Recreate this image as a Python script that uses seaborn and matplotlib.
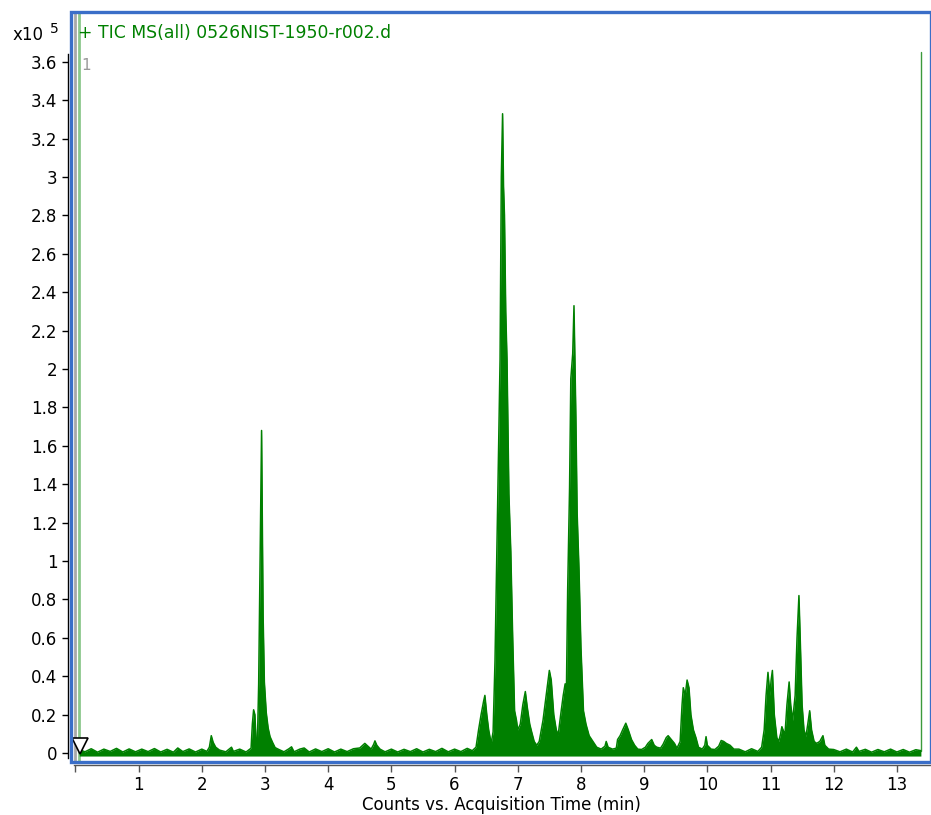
import numpy as np
import pandas as pd
import matplotlib
matplotlib.use("Agg")
import matplotlib.pyplot as plt
from matplotlib.patches import Rectangle
import seaborn as sns

# TIC trace (time in min, counts in 1e5)
TIME = [0.06, 0.15, 0.25, 0.35, 0.45, 0.55, 0.65, 0.75, 0.85, 0.95,
        1.05, 1.15, 1.25, 1.35, 1.45, 1.55, 1.62, 1.70, 1.80, 1.90,
        2.00, 2.08, 2.12, 2.15, 2.18, 2.22, 2.28, 2.38, 2.47, 2.50,
        2.60, 2.70, 2.78, 2.80, 2.82, 2.84, 2.86, 2.88, 2.90, 2.92,
        2.94, 2.946, 2.955, 2.97, 2.99, 3.02, 3.05, 3.08, 3.12, 3.16,
        3.22, 3.30, 3.38, 3.42, 3.46, 3.55, 3.62, 3.70, 3.80, 3.90,
        4.00, 4.10, 4.20, 4.30, 4.40, 4.50, 4.58, 4.63, 4.68, 4.72,
        4.74, 4.77, 4.82, 4.90, 5.00, 5.10, 5.20, 5.30, 5.40, 5.50,
        5.60, 5.70, 5.80, 5.90, 6.00, 6.10, 6.20, 6.28, 6.34, 6.38,
        6.42, 6.46, 6.48, 6.51, 6.54, 6.58, 6.61, 6.64, 6.67, 6.70,
        6.72, 6.74, 6.76, 6.775, 6.79, 6.81, 6.83, 6.86, 6.89, 6.92,
        6.95, 6.98, 7.00, 7.04, 7.08, 7.12, 7.15, 7.19, 7.22, 7.26,
        7.30, 7.34, 7.40, 7.45, 7.50, 7.53, 7.57, 7.61, 7.64, 7.68,
        7.72, 7.75, 7.77, 7.79, 7.82, 7.84, 7.87, 7.89, 7.905, 7.92,
        7.94, 7.97, 8.00, 8.04, 8.08, 8.13, 8.19, 8.25, 8.32, 8.38,
        8.40, 8.43, 8.50, 8.56, 8.58, 8.62, 8.66, 8.71, 8.75, 8.80,
        8.85, 8.90, 8.96, 9.02, 9.06, 9.12, 9.16, 9.20, 9.26, 9.30,
        9.35, 9.38, 9.43, 9.48, 9.52, 9.57, 9.60, 9.62, 9.65, 9.68,
        9.71, 9.74, 9.78, 9.82, 9.86, 9.92, 9.96, 9.98, 10.00, 10.06,
        10.12, 10.18, 10.22, 10.26, 10.30, 10.36, 10.42, 10.50, 10.60, 10.70,
        10.80, 10.86, 10.90, 10.93, 10.96, 10.99, 11.01, 11.03, 11.06, 11.10,
        11.13, 11.16, 11.18, 11.21, 11.23, 11.26, 11.295, 11.32, 11.35, 11.39,
        11.42, 11.45, 11.47, 11.50, 11.53, 11.56, 11.59, 11.62, 11.65, 11.69,
        11.73, 11.78, 11.83, 11.86, 11.92, 12.00, 12.10, 12.20, 12.30, 12.36,
        12.40, 12.50, 12.60, 12.70, 12.80, 12.90, 13.00, 13.10, 13.20, 13.30,
        13.38]
COUNTS = [0.018, 0.006, 0.022, 0.004, 0.020, 0.008, 0.024, 0.005, 0.021, 0.006,
          0.020, 0.007, 0.023, 0.005, 0.019, 0.004, 0.026, 0.007, 0.021, 0.005,
          0.020, 0.008, 0.030, 0.090, 0.055, 0.030, 0.015, 0.006, 0.030, 0.008,
          0.020, 0.005, 0.025, 0.150, 0.225, 0.200, 0.060, 0.055, 0.360, 0.920,
          1.520, 1.680, 1.320, 0.720, 0.370, 0.210, 0.130, 0.085, 0.055, 0.028,
          0.018, 0.006, 0.022, 0.032, 0.006, 0.020, 0.026, 0.005, 0.021, 0.007,
          0.022, 0.005, 0.020, 0.007, 0.022, 0.026, 0.050, 0.035, 0.020, 0.045,
          0.063, 0.040, 0.020, 0.006, 0.020, 0.005, 0.019, 0.007, 0.022, 0.005,
          0.019, 0.007, 0.024, 0.006, 0.020, 0.007, 0.024, 0.012, 0.030, 0.120,
          0.200, 0.270, 0.300, 0.200, 0.120, 0.050, 0.110, 0.480, 1.050, 1.650,
          2.050, 3.000, 3.330, 2.950, 2.800, 2.300, 2.050, 1.350, 1.050, 0.600,
          0.220, 0.170, 0.120, 0.150, 0.250, 0.320, 0.240, 0.150, 0.110, 0.060,
          0.040, 0.060, 0.170, 0.300, 0.430, 0.380, 0.200, 0.120, 0.094, 0.200,
          0.300, 0.360, 0.320, 0.850, 1.380, 1.950, 2.080, 2.330, 2.050, 1.750,
          1.250, 0.950, 0.550, 0.220, 0.150, 0.090, 0.060, 0.030, 0.020, 0.035,
          0.060, 0.030, 0.020, 0.025, 0.070, 0.090, 0.120, 0.155, 0.120, 0.070,
          0.040, 0.020, 0.018, 0.030, 0.050, 0.070, 0.040, 0.030, 0.025, 0.045,
          0.080, 0.090, 0.070, 0.050, 0.025, 0.060, 0.250, 0.340, 0.300, 0.380,
          0.340, 0.200, 0.120, 0.080, 0.030, 0.020, 0.040, 0.085, 0.040, 0.020,
          0.018, 0.035, 0.065, 0.060, 0.050, 0.040, 0.020, 0.020, 0.006, 0.022,
          0.008, 0.030, 0.120, 0.300, 0.420, 0.300, 0.380, 0.430, 0.200, 0.080,
          0.060, 0.100, 0.137, 0.110, 0.100, 0.250, 0.370, 0.250, 0.170, 0.300,
          0.600, 0.820, 0.600, 0.250, 0.120, 0.085, 0.150, 0.220, 0.120, 0.060,
          0.050, 0.060, 0.090, 0.040, 0.020, 0.018, 0.006, 0.020, 0.005, 0.030,
          0.008, 0.019, 0.004, 0.018, 0.006, 0.020, 0.005, 0.018, 0.004, 0.017,
          0.012]
BASE_LOW = -0.016
END_TIME = 13.38
END_TOP = 3.65
START_TIME = 0.055
Y_TICKS = [0, 0.2, 0.4, 0.6, 0.8, 1, 1.2, 1.4, 1.6, 1.8, 2, 2.2, 2.4, 2.6, 2.8, 3, 3.2, 3.4, 3.6]
X_TICKS = list(range(0, 14))
X_LABELS = [""] + [str(i) for i in range(1, 14)]
TITLE = "+ TIC MS(all) 0526NIST-1950-r002.d"

GREEN = "#008000"
BLUE = "#3a6ec8"

sns.set_style("white")
plt.rcParams["font.family"] = ["DejaVu Sans"]
plt.rcParams["text.color"] = "black"
plt.rcParams["xtick.color"] = "black"
plt.rcParams["ytick.color"] = "black"
plt.rcParams["axes.labelcolor"] = "black"

df = pd.DataFrame({"time": TIME, "tic": COUNTS})

fig = plt.figure(figsize=(9.31, 8.15), dpi=100)
ax = fig.add_axes([71 / 931, 53 / 815, 860 / 931, 750 / 815])

ax.fill_between(df["time"], BASE_LOW, df["tic"], color=GREEN, lw=0, zorder=3)
sns.lineplot(data=df, x="time", y="tic", sort=False, estimator=None,
             color=GREEN, linewidth=1.1, ax=ax, zorder=3)

# start / end of acquisition markers
ax.plot([0, 0], [-0.05, 3.9], color="#a8a8a8", lw=2, zorder=2)
ax.plot([START_TIME, START_TIME], [-0.05, 3.9], color="#8cc88c", lw=2, zorder=2)
ax.plot([END_TIME, END_TIME], [0.01, END_TOP], color="#3c9a3c", lw=1, zorder=2)
ax.plot([0.07], [0.036], marker="v", markersize=11, markerfacecolor="white",
        markeredgecolor="black", markeredgewidth=1.2, zorder=6)
ax.text(0.1, 3.58, "1", color="#999999", fontsize=11, ha="left", va="center")

ax.set_xlim(-0.07, 13.54)
ax.set_ylim(-0.047, 3.86)
ax.grid(False)

ax.set_yticks(Y_TICKS)
ax.set_yticklabels([f"{v:g}" for v in Y_TICKS])
ax.set_xticks(X_TICKS)
ax.set_xticklabels(X_LABELS)
ax.tick_params(axis="y", direction="out", length=4.5, width=1, color="black",
               labelcolor="black", labelsize=12, pad=3, left=True)
ax.tick_params(axis="x", direction="out", length=5, width=1, color="#555555",
               labelcolor="black", labelsize=12, pad=3, bottom=True)

for s in ["top", "right"]:
    ax.spines[s].set_visible(False)
ax.spines["left"].set_position(("outward", 2.2))
ax.spines["left"].set_bounds(-0.026, 3.64)
ax.spines["left"].set_color("black")
ax.spines["left"].set_linewidth(1)
ax.spines["bottom"].set_position(("outward", 2.2))
ax.spines["bottom"].set_bounds(-0.03, 13.6)
ax.spines["bottom"].set_color("#555555")
ax.spines["bottom"].set_linewidth(1)

ax.add_patch(Rectangle((0, 0), 1, 1, transform=ax.transAxes, fill=False,
                       edgecolor=BLUE, linewidth=2.4, clip_on=False, zorder=7))

ax.set_xlabel("Counts vs. Acquisition Time (min)", fontsize=12, labelpad=1,
              color="black")
ax.set_ylabel("")

fig.text(78 / 931, 1 - 33 / 815, TITLE, color=GREEN, fontsize=12.4, ha="left", va="center")
fig.text(13 / 931, 1 - 40 / 815, "x10", color="black", fontsize=12, ha="left", va="baseline")
fig.text(50 / 931, 1 - 33 / 815, "5", color="black", fontsize=10, ha="left", va="baseline")

fig.savefig("out.png", dpi=100)
plt.close(fig)
